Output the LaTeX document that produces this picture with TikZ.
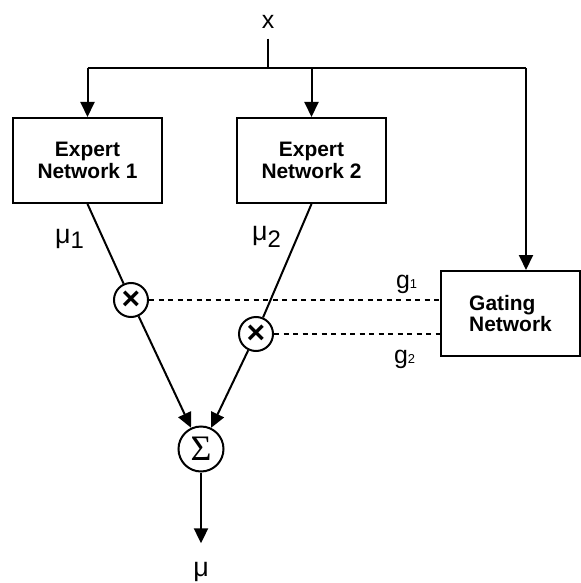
\documentclass[tikz,border=0pt]{standalone}
\usepackage{fontspec}
\setmainfont{Liberation Sans}
\newfontfamily\seriffont{Liberation Serif}
\usetikzlibrary{arrows.meta}
\begin{document}
\begin{tikzpicture}[x=1bp,y=-1bp,
  line width=2bp,
  box/.style={draw, minimum width=149bp, minimum height=85bp, inner sep=0pt,
    font=\fontsize{21}{22}\selectfont\bfseries, align=center},
  mult/.style={draw, circle, minimum size=34bp, inner sep=0pt,
    font=\fontsize{32}{32}\selectfont\bfseries},
  sumnode/.style={draw, circle, minimum size=45bp, inner sep=0pt,
    font=\seriffont\fontsize{36}{36}\selectfont},
  lbl/.style={inner sep=0pt, font=\fontsize{25}{30}\selectfont},
  mulbl/.style={inner sep=0pt, font=\fontsize{27}{30}\selectfont},
  arr/.style={-{Triangle[length=15bp,width=14bp]}},
  gate/.style={line width=1.8bp, dash pattern=on 5bp off 4.5bp}
]
\useasboundingbox (0,0) rectangle (581,583);

% input and the three blocks
\node[lbl] (x) at (268,22) {x};
\coordinate (split) at (268,68);
\node[box] (e1) at (87.5,160.5) {Expert\\Network 1};
\node[box] (e2) at (311.5,160.5) {Expert\\Network 2};
\node[box, minimum width=139bp, align=left] (g) at (510.5,313.5) {Gating\\Network};
\coordinate (gtop) at (526,68);

% multipliers and the summing junction
\node[mult] (m1) at (131,300) {×};
\node[mult] (m2) at (256,334) {×};
\node[sumnode] (s) at (201,449) {Σ};
\node[mulbl] (mu) at (201,572) {μ};

% distribution of the input
\draw[shorten <=9bp] (x.south) -- (split);
\draw (e1.north |- split) -- (gtop);
\draw[arr] (e1.north |- split) -- (e1.north);
\draw[arr] (e2.north |- split) -- (e2.north);
\draw[arr] (gtop) -- (gtop |- g.north);

% expert outputs through the gates into the sum
\draw (e1.south) -- (m1);
\draw[arr] (m1) -- (s);
\draw (e2.south) -- (m2);
\draw[arr] (m2) -- (s);
\draw[arr, shorten >=18bp] (s) -- (mu);

% gating signals
\draw[gate] (m1) -- (m1 -| g.west);
\draw[gate] (m2) -- (m2 -| g.west);

% labels
\node[mulbl, anchor=base west] (mu1) at (54,243) {μ\raisebox{-5bp}{\fontsize{24}{24}\selectfont 1}};
\node[mulbl, anchor=base west] (mu2) at (251,240) {μ\raisebox{-7bp}{\fontsize{24}{24}\selectfont 2}};
\node[lbl, anchor=base west] (g1) at (395,288) {g{\fontsize{13}{13}\selectfont 1}};
\node[lbl, anchor=base west] (g2) at (393,363) {g{\fontsize{13}{13}\selectfont 2}};
\end{tikzpicture}
\end{document}
